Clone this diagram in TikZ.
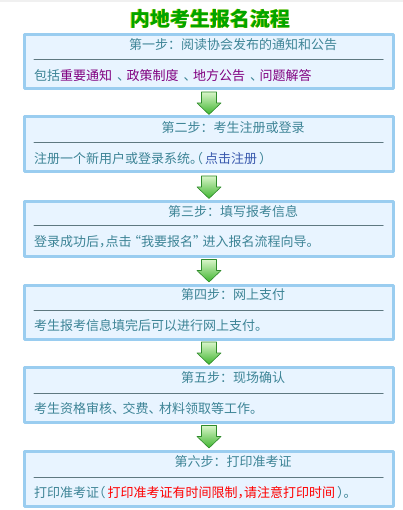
\documentclass[tikz,border=0pt]{standalone}
\usepackage{fontspec}
\setmainfont{Noto Sans CJK SC}
\usepackage{tikz}
\usetikzlibrary{calc, positioning}

\definecolor{boxborder}{HTML}{9ACDF0}
\definecolor{boxfill}{HTML}{E8F4FF}
\definecolor{stepteal}{HTML}{3D8496}
\definecolor{sepgrey}{HTML}{5E7880}
\definecolor{linkpurple}{HTML}{800080}
\definecolor{linkblue}{HTML}{3A5AAE}
\definecolor{headgreen}{HTML}{00A400}
\definecolor{headyellow}{HTML}{D8D800}
\definecolor{arrowlight}{HTML}{D8F5C8}
\definecolor{arrowdark}{HTML}{3FB52F}
\definecolor{arrowedge}{HTML}{2E8B2A}

\tikzset{
	stepbox/.style={draw=boxborder, line width=3pt, fill=boxfill, anchor=north,
		minimum width=369pt, minimum height=54pt, inner sep=0pt},
	steptitle/.style={text=stepteal, font=\fontsize{13}{15}\selectfont, inner sep=0pt},
	stepbody/.style={text=stepteal, font=\fontsize{13}{15}\selectfont\addfontfeatures{RawFeature=+halt},
		anchor=west, inner sep=0pt},
	sepline/.style={draw=sepgrey, line width=1pt},
	arrowshade/.style={top color=arrowlight, bottom color=arrowdark, draw=arrowedge, line width=0.6pt},
	maintitle/.style={font=\fontsize{20}{22}\selectfont\bfseries, inner sep=0pt}
}

\newcommand{\StepArrow}[1]{%
	\shade[arrowshade] ($(#1)+(-7.5,-11)$) -- ++(15,0) -- ++(0,11) -- ++(4.5,0)
		-- ($(#1)+(0,11.5)$) -- ($(#1)+(-12,0)$) -- ++(4.5,0) -- cycle;}
\newcommand{\dun}{\hspace{5pt}、\hspace{3pt}}

\begin{document}
\begin{tikzpicture}[x=1pt, y=-1pt, line cap=round, line join=round]
\useasboundingbox (0,0) rectangle (403,510);
\fill[black!6] (0,0) rectangle (403,2.5);

% heading
\node[maintitle, text=headyellow] (heading-shadow) at (209.3,18.6) {内地考生报名流程};
\node[maintitle, text=headgreen] (heading) at (210,19) {内地考生报名流程};


\begin{scope}[shift={(0,32)}]
	\node[stepbox] (box1) at (209,1.5) {};
	\node[steptitle] (title1) at (233,13) {第一步：阅读协会发布的通知和公告};
	\draw[sepline] (34,28) -- (383,28);
	\node[stepbody] (body1) at (34,43.5) {包括\textcolor{linkpurple}{重要通知}\dun\textcolor{linkpurple}{政策制度}\dun\textcolor{linkpurple}{地方公告}\dun\textcolor{linkpurple}{问题解答}};
\end{scope}

\begin{scope}[shift={(0,114)}]
	\node[stepbox, minimum height=55pt] (box2) at (209,1.5) {};
	\node[steptitle] (title2) at (233,14) {第二步：考生注册或登录};
	\draw[sepline] (34,29) -- (383,29);
	\node[stepbody] (body2) at (34,44.5) {注册一个新用户或登录系统。（\hspace{2pt}\textcolor{linkblue}{点击注册}\hspace{2pt}）};
\end{scope}

\begin{scope}[shift={(0,199)}]
	\node[stepbox] (box3) at (209,1.5) {};
	\node[steptitle] (title3) at (233,13) {第三步：填写报考信息};
	\draw[sepline] (34,27) -- (383,27);
	\node[stepbody] (body3) at (34,43) {登录成功后，点击 “我要报名” 进入报名流程向导。};
\end{scope}

\begin{scope}[shift={(0,282)}]
	\node[stepbox] (box4) at (209,1.5) {};
	\node[steptitle] (title4) at (233,13) {第四步：网上支付};
	\draw[sepline] (34,28) -- (383,28);
	\node[stepbody] (body4) at (34,43.5) {考生报考信息填完后可以进行网上支付。};
\end{scope}

\begin{scope}[shift={(0,364)}]
	\node[stepbox, minimum height=55pt] (box5) at (209,1.5) {};
	\node[steptitle] (title5) at (233,14) {第五步：现场确认};
	\draw[sepline] (34,29) -- (383,29);
	\node[stepbody] (body5) at (34,45) {考生资格审核、\hspace{4pt}交费、\hspace{4pt}材料领取等工作。};
\end{scope}

\begin{scope}[shift={(0,448)}]
	\node[stepbox, minimum height=55pt] (box6) at (209,1.5) {};
	\node[steptitle] (title6) at (233,13.5) {第六步：打印准考证};
	\draw[sepline] (34,29) -- (383,29);
	\node[stepbody] (body6) at (34,45) {打印准考证（\hspace{2pt}\textcolor{red}{打印准考证有时间限制，请注意打印时间}\hspace{2pt}）。};
\end{scope}

% arrows between the steps
\foreach \from/\to [count=\i] in {box1/box2, box2/box3, box3/box4, box4/box5, box5/box6} {
	\coordinate (arrow\i) at ($(\from.south)!0.5!(\to.north)$);
	\StepArrow{arrow\i}
}

\end{tikzpicture}
\end{document}
